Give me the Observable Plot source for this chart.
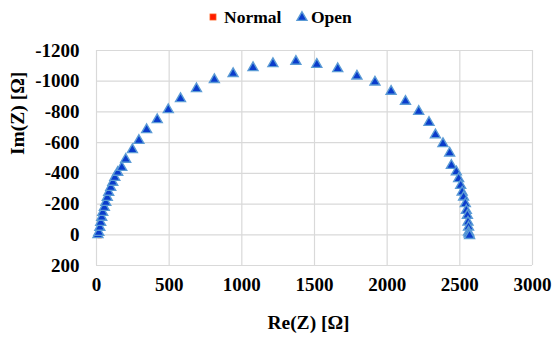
<!DOCTYPE html>
<html><head><meta charset="utf-8">
<script src="https://cdn.jsdelivr.net/npm/d3@7"></script>
<script src="https://cdn.jsdelivr.net/npm/@observablehq/plot@0.6"></script>
<style>
body{margin:0;background:#fff;}
#wrap{position:relative;width:553px;height:338px;font-family:'Times New Roman','Liberation Serif','DejaVu Serif',serif;}
#legend{position:absolute;top:0;left:0;width:553px;height:30px;font-weight:bold;font-size:17.5px;color:#000;white-space:nowrap;font-family:'Times New Roman','Liberation Serif','DejaVu Serif',serif;}
#legend svg{display:block;position:absolute;}
#legend span{position:absolute;line-height:20px;top:7px;}
#chart svg{display:block;}
#chart svg text{font-family:'Times New Roman','Liberation Serif','DejaVu Serif',serif !important;}
</style></head><body>
<div id="wrap"><div id="chart"></div><div id="legend"></div></div>
<script>
// Nyquist data, Re(Z) and Im(Z) in Ω
const openRe = [10,16,23,29,36,43,54,64,74,84,98,112,126,146,174,201,247,292,345,418,494,578,688,811,940,1077,1214,1372,1516,1660,1792,1916,2027,2126,2217,2288,2332,2384,2430,2442,2476,2492,2506,2516,2526,2538,2545,2552,2556,2560,2560,2563,2567];
const openIm = [0,-15,-48,-80,-113,-145,-178,-210,-243,-276,-308,-341,-373,-406,-438,-491,-554,-614,-684,-749,-814,-886,-951,-1010,-1049,-1088,-1114,-1129,-1109,-1081,-1033,-994,-934,-869,-803,-731,-651,-593,-532,-451,-410,-365,-321,-278,-245,-202,-158,-126,-82,-50,-17,-5,5];
const normalRe = [22];
const normalIm = [6];
const seriesNames = ["Normal", "Open"];
const xTicks = [0,500,1000,1500,2000,2500,3000];
const yTicks = [-1200,-1000,-800,-600,-400,-200,0,200];
const xTitle = "Re(Z) [Ω]";
const yTitle = "Im(Z) [Ω]";

const openData = openRe.map((x,i)=>({x, y: openIm[i]}));
const normalData = normalRe.map((x,i)=>({x, y: normalIm[i]}));

const triFill = "#0a3ccc", triStroke = "#5b9bd5";
const sqFill = "#ff1a00", sqStroke = "#ff5a1a";
const serif = "'Times New Roman','Liberation Serif','DejaVu Serif',serif";

const chart = Plot.plot({
  width: 553, height: 338,
  marginLeft: 96, marginRight: 21, marginTop: 50, marginBottom: 73,
  style: {fontFamily: serif, fontSize: "19px", fontWeight: "bold", color: "#000", background: "#fff"},
  x: {domain: [0,3000]},
  y: {domain: [200,-1200]},
  marks: [
    Plot.gridX(xTicks, {stroke: "#d9d9d9", strokeOpacity: 1, strokeWidth: 1.2}),
    Plot.gridY(yTicks, {stroke: "#d9d9d9", strokeOpacity: 1, strokeWidth: 1.2}),
    Plot.axisX({ticks: xTicks, tickSize: 0, tickPadding: 12, label: null, fontSize: 19, tickFormat: d => String(d)}),
    Plot.axisY({ticks: yTicks, tickSize: 0, tickPadding: 17, label: null, fontSize: 19, tickFormat: d => String(d).replace("−","-")}),
    Plot.dot(normalData, {x: "x", y: "y", symbol: "square", r: 2.4, fill: sqFill, stroke: sqStroke, strokeWidth: 0.8}),
    Plot.dot(openData, {x: "x", y: "y", symbol: "triangle", r: 3.7, fill: triFill, stroke: triStroke, strokeWidth: 1.4}),
    Plot.text([xTitle], {frameAnchor: "bottom", dx: -6, dy: 57, text: d => d, fontSize: 19.5, fontWeight: "bold", lineAnchor: "middle"}),
    Plot.text([yTitle], {frameAnchor: "left", dx: -79, dy: -3, rotate: -90, text: d => d, fontSize: 19.5, fontWeight: "bold", lineAnchor: "middle"})
  ]
});
document.getElementById("chart").appendChild(chart);

// legend (absolutely positioned items)
const leg = document.getElementById("legend");
const legendLayout = [{sym: "square", cx: 213.3, tx: 224}, {sym: "triangle", cx: 301.7, tx: 311}];
seriesNames.forEach((name,i)=>{
  const L = legendLayout[i];
  const s = d3.create("svg").attr("width", 14).attr("height", 14)
    .style("left", (L.cx - 7) + "px").style("top", (17 - 7) + "px");
  if (L.sym === "square") {
    s.append("rect").attr("x",4).attr("y",4).attr("width",6).attr("height",6).attr("fill",sqFill).attr("stroke",sqStroke).attr("stroke-width",0.8);
  } else {
    s.append("path").attr("d", d3.symbol(d3.symbolTriangle, 3.7*3.7*Math.PI)()).attr("transform","translate(7,7.5)").attr("fill",triFill).attr("stroke",triStroke).attr("stroke-width",1.4);
  }
  leg.appendChild(s.node());
  const t = document.createElement("span");
  t.textContent = name;
  t.style.left = L.tx + "px";
  leg.appendChild(t);
});
</script>
</body></html>
